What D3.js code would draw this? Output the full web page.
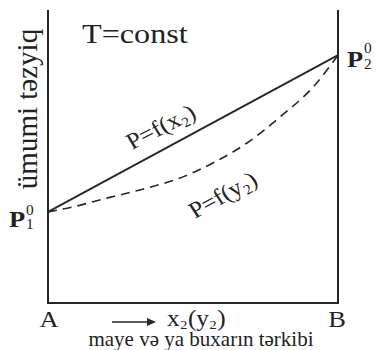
<!DOCTYPE html>
<html>
<head>
<meta charset="utf-8">
<script src="https://cdn.jsdelivr.net/npm/d3@7/dist/d3.min.js"></script>
<style>
  html, body { margin: 0; padding: 0; background: #fff; }
  svg { display: block; }
</style>
</head>
<body>
<svg id="chart" width="376" height="350"></svg>
<script>
// Composition axis (mole fraction of component 2), A = 0, B = 1
const composition = [0, 1];
// Pure-component vapour pressures (relative units)
const P1 = 0.311;
const P2 = 0.846;
// Liquid line P = f(x2): straight line between P1 and P2
const liquidX = [0, 1];
const liquidP = [0.311, 0.846];
// Vapour line P = f(y2)
const vaporY = [0, 0.086, 0.203, 0.317, 0.472, 0.569, 0.686, 0.8, 0.914, 1];
const vaporP = [0.311, 0.328, 0.358, 0.386, 0.433, 0.478, 0.546, 0.635, 0.737, 0.846];

const FONT = '"Liberation Serif", "DejaVu Serif", serif';
const ink = "#262626";
const textInk = "#222";

const svg = d3.select("#chart");
const x = d3.scaleLinear().domain([0, 1]).range([48, 338]);
const y = d3.scaleLinear().domain([0, 1]).range([303, 10]);

// Frame: left axis, bottom axis, right axis
svg.append("path")
  .attr("d", `M${x(0)},${y(1)} V${y(0)} H${x(1)} V${y(1)}`)
  .attr("fill", "none").attr("stroke", ink).attr("stroke-width", 2);

const line = d3.line().x(d => x(d[0])).y(d => y(d[1]));

// Liquid line
svg.append("path")
  .datum(d3.zip(liquidX, liquidP))
  .attr("d", line)
  .attr("fill", "none").attr("stroke", ink).attr("stroke-width", 1.8);

// Vapour line
svg.append("path")
  .datum(d3.zip(vaporY, vaporP))
  .attr("d", line.curve(d3.curveMonotoneX))
  .attr("fill", "none").attr("stroke", ink).attr("stroke-width", 1.6)
  .attr("stroke-dasharray", "9,6");

// Group at a position with optional horizontal stretch and rotation
function place(px, py, sx, rot) {
  return svg.append("g")
    .attr("transform", `translate(${px},${py}) scale(${sx || 1},1) rotate(${rot || 0})`);
}

function plain(g, str, size, anchor, weight) {
  return g.append("text")
    .style("font-family", FONT)
    .style("font-size", size + "px")
    .style("font-weight", weight || "normal")
    .style("fill", textInk)
    .attr("text-anchor", anchor || "start")
    .text(str);
}

// Text made of pieces laid out one after another (subscripts shifted down)
function pieces(g, parts) {
  let cx = 0;
  parts.forEach(p => {
    const t = g.append("text")
      .attr("x", cx).attr("y", p.dy || 0)
      .style("font-family", FONT)
      .style("font-size", p.size + "px")
      .style("fill", textInk)
      .text(p.t);
    cx += t.node().getComputedTextLength() + 0.5;
  });
}

// Title
plain(place(82, 43, 1.15), "T=const", 28);

// Y-axis title
plain(place(37, 109, 1, -90), "ümumi təzyiq", 29, "middle");

// P1 label
plain(place(9, y(P1) + 15, 1.15), "P", 23, "start", "bold");
plain(place(26, y(P1) + 3, 1.1), "0", 14);
plain(place(26, y(P1) + 17, 1.1), "1", 14);

// P2 label
plain(place(347, y(P2) + 12, 1.15), "P", 23, "start", "bold");
plain(place(364, y(P2) - 2, 1.1), "0", 14);
plain(place(364, y(P2) + 14, 1.1), "2", 14);

// Line labels
pieces(place(132, 150, 1.1, -29), [
  { t: "P=f(x", size: 23 }, { t: "2", size: 14, dy: 4 }, { t: ")", size: 23 }
]);
pieces(place(195, 219, 1.1, -31), [
  { t: "P=f(y", size: 23 }, { t: "2", size: 14, dy: 4 }, { t: ")", size: 23 }
]);

// Composition endpoints
plain(place(x(composition[0]) + 1, 327, 1.15), "A", 23, "middle");
plain(place(x(composition[1]) - 1, 327, 1.15), "B", 23, "middle");

// Arrow pointing along composition
svg.append("line")
  .attr("x1", 112).attr("x2", 154).attr("y1", 322).attr("y2", 322)
  .attr("stroke", ink).attr("stroke-width", 1.5);
svg.append("path")
  .attr("d", "M147,318 L156,322 L147,326 Z")
  .attr("fill", ink);

// Axis variable
pieces(place(167, 326, 1.1), [
  { t: "x", size: 23 }, { t: "2", size: 13, dy: 3 }, { t: "(y", size: 23 },
  { t: "2", size: 13, dy: 3 }, { t: ")", size: 23 }
]);

// Axis caption
plain(place(201, 346), "maye və ya buxarın tərkibi", 21, "middle");
</script>
</body>
</html>
